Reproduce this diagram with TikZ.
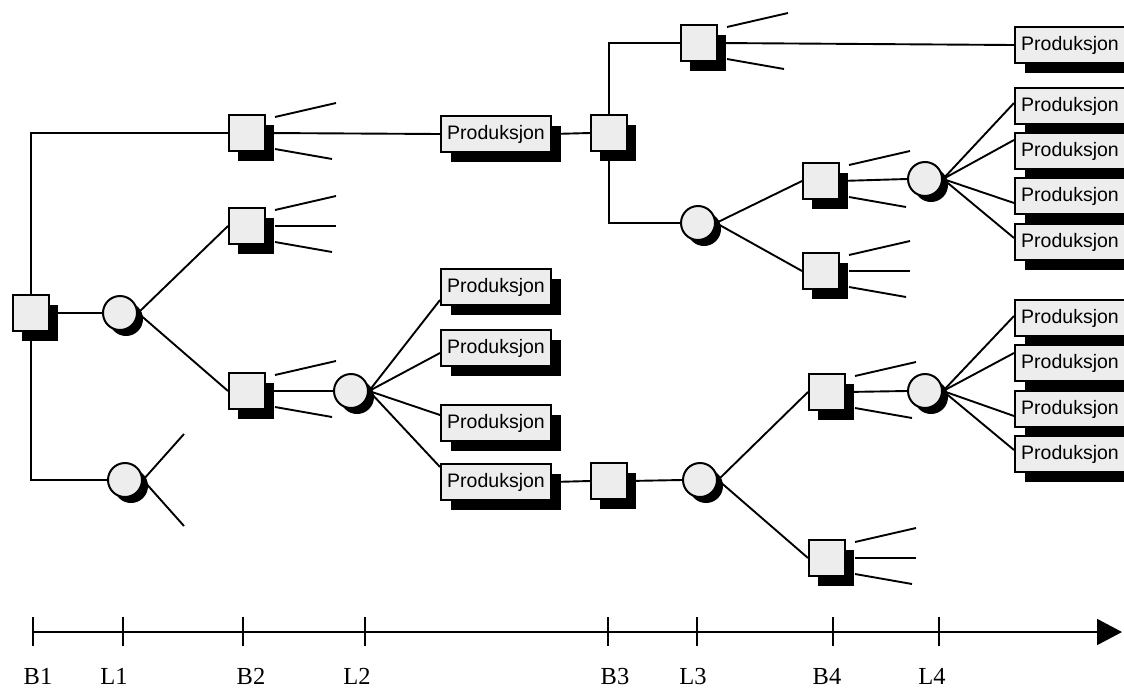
\documentclass[tikz,border=0pt]{standalone}
\usepackage{fontspec}
\setmainfont{Liberation Serif}
\newfontfamily\arialfont{Liberation Sans}
\usepackage{tikz}
\usetikzlibrary{arrows.meta,shadows}
\definecolor{boxgray}{gray}{0.93}

\begin{document}
\begin{tikzpicture}[x=1pt, y=-1pt, line width=1.9pt,
  decision/.style={draw, fill=boxgray, line width=2pt, minimum size=36pt, inner sep=0pt,
    drop shadow={shadow xshift=9pt, shadow yshift=-10pt, fill=black, opacity=1}},
  chance/.style={circle, draw, fill=boxgray, line width=2pt, minimum size=34pt, inner sep=0pt,
    drop shadow={shadow xshift=6pt, shadow yshift=-6pt, fill=black, opacity=1}},
  prod/.style={draw, fill=boxgray, line width=2pt, minimum width=110pt, minimum height=36pt,
    inner sep=0pt, font=\arialfont\fontsize{19.5}{22}\selectfont,
    drop shadow={shadow xshift=10pt, shadow yshift=-10pt, fill=black, opacity=1}},
  axtick/.style={line width=1.5pt},
  axlabel/.style={anchor=base, inner sep=0pt, font=\fontsize{24.5}{28}\selectfont}]
\clip (0,0) rectangle (1124,691);
% left half of the tree
\node[decision] (root) at (31,313) {};
\node[chance] (l1a) at (120,313) {};
\node[chance] (l1b) at (125,480) {};
\node[decision] (b2a) at (247,133) {};
\node[decision] (b2b) at (247,226) {};
\node[decision] (b2c) at (247,391) {};
\node[chance] (l2) at (351,391) {};
\node[prod] (p0) at (496,134) {Produksjon};
\node[prod] (pa) at (496,287) {Produksjon};
\node[prod] (pb) at (496,348) {Produksjon};
\node[prod] (pc) at (496,423) {Produksjon};
\node[prod] (pd) at (496,482) {Produksjon};
% right half of the tree
\node[decision] (b3a) at (609,133) {};
\node[decision] (b3b) at (609,481) {};
\node[decision] (b4top) at (699,43) {};
\node[chance] (l3a) at (698,223) {};
\node[chance] (l3b) at (700,480) {};
\node[decision] (b4a) at (821,181) {};
\node[decision] (b4b) at (821,271) {};
\node[decision] (b4c) at (827,392) {};
\node[decision] (b4d) at (827,558) {};
\node[chance] (l4a) at (925,179) {};
\node[chance] (l4b) at (925,391) {};
\node[prod] (r0) at (1070,45) {Produksjon};
\node[prod] (ra) at (1070,106) {Produksjon};
\node[prod] (rb) at (1070,151) {Produksjon};
\node[prod] (rc) at (1070,196) {Produksjon};
\node[prod] (rd) at (1070,242) {Produksjon};
\node[prod] (rs) at (1070,318) {Produksjon};
\node[prod] (rt) at (1070,363) {Produksjon};
\node[prod] (ru) at (1070,409) {Produksjon};
\node[prod] (rv) at (1070,454) {Produksjon};
% branches
\draw (root.north) |- (b2a.west);
\draw (root.south) |- (l1b.west);
\draw (root.east) -- (l1a.west);
\draw (l1a.east) -- (b2b.west);
\draw (l1a.east) -- (b2c.west);
\draw (b2a.east) -- (p0.west);
\draw (b2c.east) -- (l2.west);
\draw (l2.east) -- ([shift={(0,13)}]pa.west);
\draw (l2.east) -- ([shift={(0,5)}]pb.west);
\draw (l2.east) -- ([shift={(0,-8)}]pc.west);
\draw (l2.east) -- ([shift={(0,-15)}]pd.west);
\draw (p0.east) -- (b3a.west);
\draw (b3a.north) |- (b4top.west);
\draw (b3a.south) |- (l3a.west);
\draw (b4top.east) -- (r0.west);
\draw (l3a.east) -- (b4a.west);
\draw (l3a.east) -- (b4b.west);
\draw (b4a.east) -- (l4a.west);
\draw (l4a.east) -- ([shift={(0,-3)}]ra.west);
\draw (l4a.east) -- ([shift={(0,-11)}]rb.west);
\draw (l4a.east) -- ([shift={(0,7)}]rc.west);
\draw (l4a.east) -- ([shift={(0,-4)}]rd.west);
\draw (pd.east) -- (b3b.west);
\draw (b3b.east) -- (l3b.west);
\draw (l3b.east) -- (b4c.west);
\draw (l3b.east) -- (b4d.west);
\draw (b4c.east) -- (l4b.west);
\draw (l4b.east) -- ([shift={(0,-2)}]rs.west);
\draw (l4b.east) -- ([shift={(0,-10)}]rt.west);
\draw (l4b.east) -- ([shift={(0,7)}]ru.west);
\draw (l4b.east) -- ([shift={(0,-4)}]rv.west);
% open branches
\draw (l1b.east) -- ++(41,-46);
\draw (l1b.east) -- ++(41,46);
\draw ([shift={(9,3)}]b2a.north east) -- ++(61,-14);
\draw ([shift={(9,-3)}]b2a.south east) -- ++(57,10);
\draw ([shift={(9,3)}]b2b.north east) -- ++(61,-14);
\draw ([xshift=9pt]b2b.east) -- ++(61,0);
\draw ([shift={(9,-3)}]b2b.south east) -- ++(57,10);
\draw ([shift={(9,3)}]b2c.north east) -- ++(61,-14);
\draw ([shift={(9,-3)}]b2c.south east) -- ++(57,10);
\draw ([shift={(9,3)}]b4top.north east) -- ++(61,-14);
\draw ([shift={(9,-3)}]b4top.south east) -- ++(57,10);
\draw ([shift={(9,3)}]b4a.north east) -- ++(61,-14);
\draw ([shift={(9,-3)}]b4a.south east) -- ++(57,10);
\draw ([shift={(9,3)}]b4b.north east) -- ++(61,-14);
\draw ([xshift=9pt]b4b.east) -- ++(61,0);
\draw ([shift={(9,-3)}]b4b.south east) -- ++(57,10);
\draw ([shift={(9,3)}]b4c.north east) -- ++(61,-14);
\draw ([shift={(9,-3)}]b4c.south east) -- ++(57,10);
\draw ([shift={(9,3)}]b4d.north east) -- ++(61,-14);
\draw ([xshift=9pt]b4d.east) -- ++(61,0);
\draw ([shift={(9,-3)}]b4d.south east) -- ++(57,10);
% time axis
\coordinate (axstart) at (33,632);
\coordinate (axend) at (1122,632);
\draw[-{Triangle[length=25pt,width=26pt]}] (axstart) -- (axend);
\foreach \tx/\lx/\lab in {33/38/B1, 123/114/L1, 243/251/B2, 365/357/L2,
    608/615/B3, 697/693/L3, 833/827/B4, 939/932/L4}{
  \draw[axtick] (\tx,617) -- (\tx,646);
  \node[axlabel] (lab\lab) at (\lx,684) {\lab};
}
\end{tikzpicture}
\end{document}
